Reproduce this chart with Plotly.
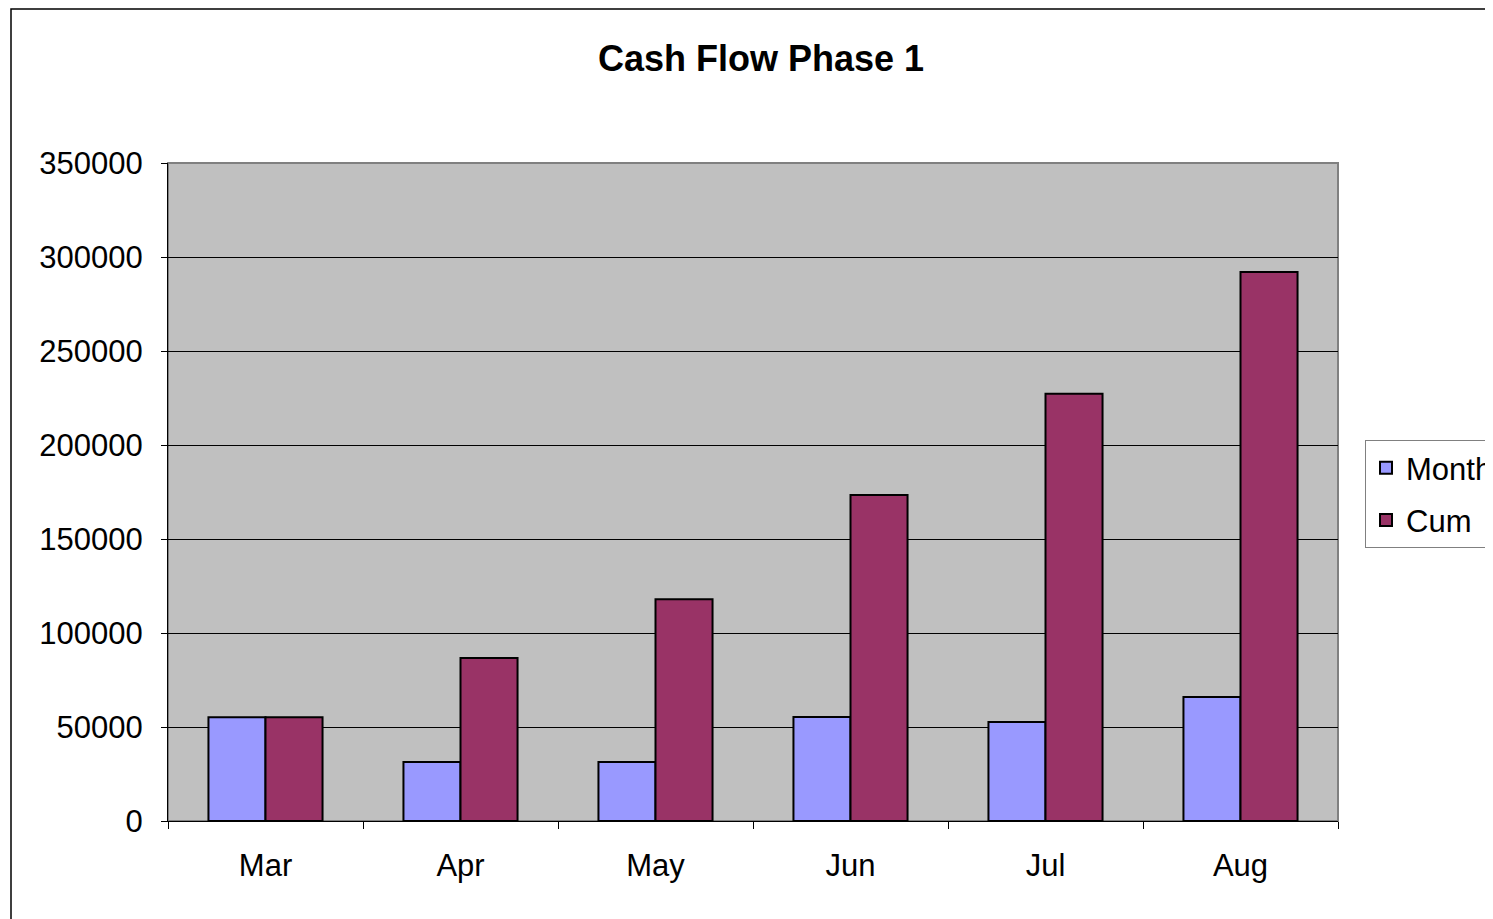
import plotly.graph_objects as go

months = ["Mar", "Apr", "May", "Jun", "Jul", "Aug"]
month_vals = [55200, 31400, 31400, 55300, 52700, 66000]
cum_vals = [55200, 86700, 118000, 173400, 227300, 292000]
y_ticks = [0, 50000, 100000, 150000, 200000, 250000, 300000, 350000]

FONT = "Liberation Sans, Arial, sans-serif"

# page has an 8px body margin; figure sized so it ends at the window edge
W, H = 1485, 911
L, R, T, B = 160, 155, 155, 98
PW = W - L - R
PH = H - T - B

fig = go.Figure()
fig.add_trace(go.Bar(x=months, y=month_vals, name="Month", legendgroup="m",
                     marker=dict(color="#9999FF", line=dict(color="#000000", width=2))))
fig.add_trace(go.Bar(x=months, y=cum_vals, name="Cum", legendgroup="c",
                     marker=dict(color="#993366", line=dict(color="#000000", width=2))))

fig.update_layout(
    width=W, height=H,
    margin=dict(l=L, r=R, t=T, b=B, autoexpand=False),
    paper_bgcolor="white",
    plot_bgcolor="#C0C0C0",
    barmode="group", bargap=0.415, bargroupgap=0,
    font=dict(family=FONT, size=31, color="#000000"),
    title=dict(text="<b>Cash Flow Phase 1</b>", x=(761 - 8 - L) / PW, xanchor="center",
               xref="paper", y=1 - 50 / H, yanchor="middle", font=dict(size=36, family=FONT)),
    showlegend=True,
    legend=dict(x=(1365 - 8 - L) / PW, xanchor="left", y=1 - (440 - 8 - T) / PH, yanchor="top",
                bgcolor="white", bordercolor="#808080", borderwidth=1,
                font=dict(size=31, family=FONT), tracegroupgap=9),
    xaxis=dict(showline=True, linecolor="#000000", linewidth=1,
               ticks="outside", ticklen=7, tickcolor="#000000", tickson="boundaries",
               showgrid=False, tickfont=dict(size=31), ticklabelstandoff=17),
    yaxis=dict(range=[0, 350000], tickvals=y_ticks, tickformat="d", showline=True,
               linecolor="#000000", linewidth=1, ticks="outside", ticklen=6,
               tickcolor="#000000", showgrid=True, gridcolor="#000000", gridwidth=1,
               zeroline=False, tickfont=dict(size=31), ticklabelstandoff=12),
    shapes=[
        dict(type="rect", xref="paper", yref="paper", x0=0, x1=1, y0=0, y1=1,
             line=dict(color="#808080", width=2), layer="below"),
        dict(type="rect", xref="paper", yref="paper",
             x0=(3 - L) / PW, x1=2.0, y0=-1.0, y1=1 + (T - 1) / PH,
             line=dict(color="#000000", width=1.5), fillcolor="rgba(0,0,0,0)"),
    ],
)

fig.write_html("out.html")
